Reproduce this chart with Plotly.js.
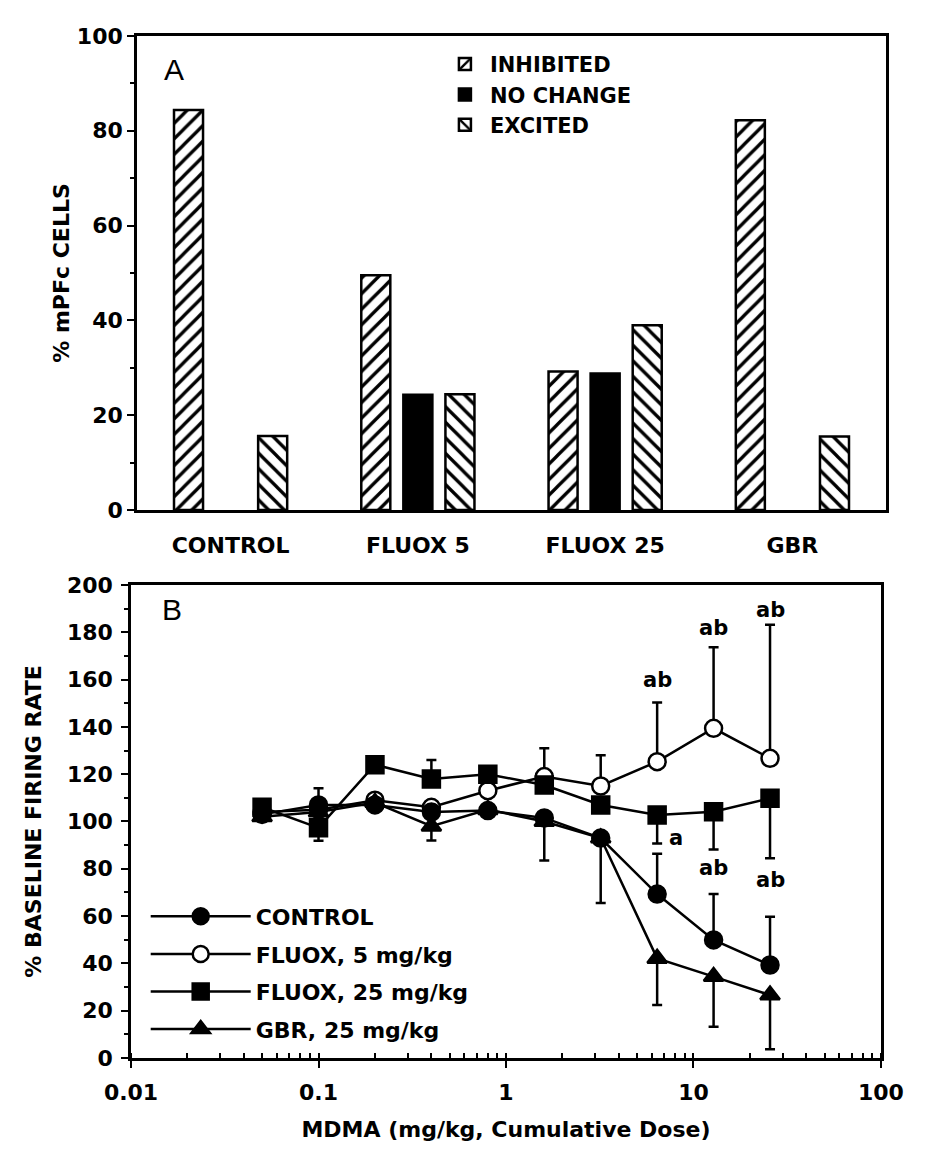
<!DOCTYPE html>
<html>
<head>
<meta charset="utf-8">
<script src="https://cdn.plot.ly/plotly-3.0.1.min.js"></script>
<style>
  body { margin: 0; background: #fff; }
  #chart { width: 940px; height: 1157px; }
</style>
</head>
<body>
<div id="chart"></div>
<script>
// Panel A: % of mPFc cells by response type
var groups = ["CONTROL", "FLUOX 5", "FLUOX 25", "GBR"];
var inhibited = [84.4, 49.5, 29.2, 82.2];
var noChange = [null, 24.3, 28.8, null];
var excited = [15.6, 24.4, 39, 15.5];

// Panel B: % baseline firing rate vs MDMA dose
var doses = [0.05, 0.1, 0.2, 0.4, 0.8, 1.6, 3.2, 6.4, 12.8, 25.6];
var control = [103, 107, 107, 104, 104.6, 101.5, 93, 69.3, 49.9, 39.3];
var controlUp = [0, 7, 0, 0, 0, 0, 0, 17, 19.4, 20.4];
var controlDown = [0, 0, 0, 0, 0, 18, 27.5, 0, 0, 0];
var fluox5 = [104, 105, 109, 106, 113, 119, 115, 125.3, 139.4, 126.7];
var fluox5Up = [0, 0, 0, 0, 0, 12, 13, 25, 34.3, 56.5];
var fluox25 = [106, 97.3, 124, 118, 120, 115.4, 107, 102.7, 104.1, 109.8];
var fluox25Up = [0, 0, 0, 8, 0, 0, 0, 0, 0, 0];
var fluox25Down = [0, 5.4, 0, 0, 0, 0, 0, 12, 16, 25.4];
var gbr = [102, 104, 108, 98, 105, 100, 93, 42.1, 34.4, 26.6];
var gbrDown = [0, 0, 0, 6, 0, 0, 0, 19.7, 21.2, 22.9];

var FONT = "DejaVu Sans, Liberation Sans, Arial, sans-serif";

function hatchBar(name, vals, shape) {
  return {
    type: "bar", x: groups, y: vals, name: name,
    xaxis: "x", yaxis: "y", legend: "legend",
    marker: {
      color: "white",
      line: {color: "black", width: 2.5},
      pattern: {shape: shape, fgcolor: "black", bgcolor: "white", size: 11, solidity: 0.3}
    }
  };
}

var barInh = hatchBar("INHIBITED", inhibited, "/");
var barNc = {
  type: "bar", x: groups, y: noChange, name: "NO CHANGE",
  xaxis: "x", yaxis: "y", legend: "legend",
  marker: {color: "black", line: {color: "black", width: 2.5}}
};
var barExc = hatchBar("EXCITED", excited, "\\");

function series(name, y, up, down, symbol, fill, rank) {
  return {
    type: "scatter", mode: "lines+markers", x: doses, y: y, name: name,
    xaxis: "x2", yaxis: "y2", legend: "legend2", legendrank: rank,
    legendgroup: name,
    line: {color: "black", width: 2.5},
    marker: {symbol: symbol, size: 17, color: fill, line: {color: "black", width: 2.5}},
    error_y: {type: "data", symmetric: false, array: up, arrayminus: down,
              color: "black", thickness: 2.5, width: 5}
  };
}

var zeros = doses.map(function () { return 0; });
var tF5 = series("FLUOX, 5 mg/kg", fluox5, fluox5Up, zeros, "circle", "white", 2);
var tF25 = series("FLUOX, 25 mg/kg", fluox25, fluox25Up, fluox25Down, "square", "black", 3);
var tCtl = series("CONTROL", control, controlUp, controlDown, "circle", "black", 1);
var tGbr = series("GBR, 25 mg/kg", gbr, zeros, gbrDown, "triangle-up", "black", 4);

var data = [barInh, barNc, barExc, tF5, tF25, tCtl, tGbr];

var tickFont = {family: FONT, size: 22, color: "black", weight: "bold"};
var titleFont = {family: FONT, size: 22, color: "black", weight: "bold"};

function note(x, y, text, xshift) {
  return {x: Math.log10(x), y: y, xref: "x2", yref: "y2", text: text, showarrow: false,
          xshift: xshift || 0, font: {family: FONT, size: 21, color: "black", weight: "bold"}};
}

var layout = {
  width: 940, height: 1157,
  margin: {l: 0, r: 0, t: 0, b: 0},
  paper_bgcolor: "white", plot_bgcolor: "white",
  barmode: "group", bargap: 0.326, bargroupgap: 0.31,
  xaxis: {
    anchor: "y", domain: [0.1457, 0.9426], range: [-0.5, 3.5],
    showline: true, linecolor: "black", linewidth: 2.5, mirror: true,
    ticks: "", tickfont: tickFont, ticklabelstandoff: 14, showgrid: false, zeroline: false
  },
  yaxis: {
    anchor: "x", domain: [0.5592, 0.9689], range: [0, 100], dtick: 20,
    showline: true, linecolor: "black", linewidth: 2.5, mirror: true,
    ticks: "outside", ticklen: 7, tickwidth: 2, tickcolor: "black",
    minor: {ticks: "outside", ticklen: 4, dtick: 10, tickcolor: "black", tickwidth: 2},
    tickfont: tickFont, showgrid: false, zeroline: false,
    title: {text: "% mPFc CELLS", font: titleFont, standoff: 2}
  },
  xaxis2: {
    anchor: "y2", type: "log", domain: [0.1394, 0.9372], range: [-2, 2],
    tickvals: [0.01, 0.1, 1, 10, 100], ticktext: ["0.01", "0.1", "1", "10", "100"],
    showline: true, linecolor: "black", linewidth: 2.5, mirror: true,
    ticks: "outside", ticklen: 7, tickwidth: 2, tickcolor: "black",
    minor: {ticks: "inside", ticklen: 5, dtick: "D1", tickcolor: "black", tickwidth: 1.5},
    tickfont: tickFont, ticklabelstandoff: 6, showgrid: false, zeroline: false,
    title: {text: "MDMA (mg/kg, Cumulative Dose)", font: titleFont, standoff: 18}
  },
  yaxis2: {
    anchor: "x2", domain: [0.0856, 0.4944], range: [0, 200], dtick: 20,
    showline: true, linecolor: "black", linewidth: 2.5, mirror: true,
    ticks: "outside", ticklen: 7, tickwidth: 2, tickcolor: "black",
    minor: {ticks: "outside", ticklen: 4, dtick: 10, tickcolor: "black", tickwidth: 2},
    tickfont: tickFont, ticklabelstandoff: 4, showgrid: false, zeroline: false,
    title: {text: "% BASELINE FIRING RATE", font: titleFont, standoff: 20}
  },
  legend: {
    x: 0.468, y: 0.962, xanchor: "left", yanchor: "top",
    bgcolor: "rgba(0,0,0,0)", font: {family: FONT, size: 21, color: "black", weight: "bold"},
    itemwidth: 40, tracegroupgap: 0
  },
  legend2: {
    x: 0.155, y: 0.226, xanchor: "left", yanchor: "top",
    bgcolor: "rgba(0,0,0,0)", font: {family: FONT, size: 22, color: "black", weight: "bold"},
    itemwidth: 100, traceorder: "grouped", tracegroupgap: 6
  },
  annotations: [
    {x: 0.185, y: 0.94, xref: "paper", yref: "paper", xanchor: "center", yanchor: "middle",
     text: "A", showarrow: false,
     font: {family: "Liberation Sans, Arial, sans-serif", size: 30, color: "black"}},
    {x: 0.183, y: 0.473, xref: "paper", yref: "paper", xanchor: "center", yanchor: "middle",
     text: "B", showarrow: false,
     font: {family: "Liberation Sans, Arial, sans-serif", size: 30, color: "black"}},
    note(6.4, 160, "ab"),
    note(12.8, 182, "ab"),
    note(25.6, 189.5, "ab"),
    note(6.4, 93, "a", 19),
    note(12.8, 80.5, "ab"),
    note(25.6, 75.3, "ab")
  ]
};

Plotly.newPlot("chart", data, layout, {displayModeBar: false});
</script>
</body>
</html>
